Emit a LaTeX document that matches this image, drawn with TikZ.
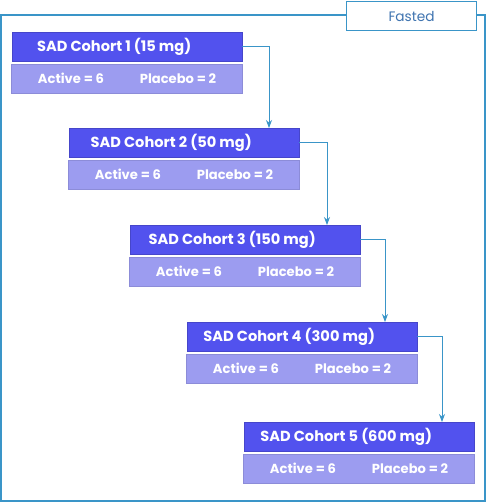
\documentclass[tikz,border=0pt]{standalone}
\usepackage{fontspec}
\setmainfont{Poppins}
\usetikzlibrary{arrows.meta,calc}
\definecolor{topc}{HTML}{5252EE}
\definecolor{botc}{HTML}{9C9CF0}
\definecolor{linec}{HTML}{3A95C8}
\definecolor{fastc}{HTML}{3F74B0}
\tikzset{
  topbox/.style={draw=topc!85!black, line width=0.4pt, fill=topc, minimum width=230pt, minimum height=29pt, inner sep=0pt},
  botbox/.style={draw=botc!90!black, line width=0.3pt, fill=botc, minimum width=231pt, minimum height=29pt, inner sep=0pt},
  toptxt/.style={text=white, font=\bfseries\fontsize{14.6}{16}\selectfont, inner sep=0pt},
  bottxt/.style={text=white, font=\bfseries\fontsize{13.1}{15}\selectfont, inner sep=0pt},
  conn/.style={draw=linec, line width=0.8pt, -{Stealth[length=8pt,width=6pt]}},
  frame/.style={draw=linec, line width=1.2pt},
}
\begin{document}
\begin{tikzpicture}[x=1pt,y=-1pt]
\useasboundingbox (0,0) rectangle (488,504);
% frame
\draw[frame] (1,15) rectangle (485,501);
\node[draw=linec, line width=1.2pt, fill=white, anchor=north west, minimum width=130pt, minimum height=29pt, inner sep=0pt] (fast) at (346,1) {};
\node[text=fastc, font=\fontsize{13.7}{15}\selectfont, inner sep=0pt] (fastt) at (fast.center) {Fasted};
% cohorts: top-left x, top y
\foreach \i/\x/\y/\dose in {1/12/32/15, 2/69/128/50, 3/130/225/150, 4/187/322/300, 5/244/422/600}{
  \node[topbox, anchor=north west] (t\i) at (\x,\y) {};
  \node[botbox, anchor=north west] (b\i) at (\x-1,\y+32) {};
  \node[toptxt] (tt\i) at ($(t\i.center)+(-13,0)$) {SAD Cohort \i\ (\dose\ mg)};
  \node[bottxt] (ba\i) at ($(b\i.west)+(60,0)$) {Active = 6};
  \node[bottxt] (bp\i) at ($(b\i.west)+(167,0)$) {Placebo = 2};
}
\coordinate (a2) at (269,128);
\coordinate (a3) at (327,225);
\coordinate (a4) at (385,322);
\coordinate (a5) at (442,422);
\draw[conn] (t1.east) -| (a2);
\draw[conn] (t2.east) -| (a3);
\draw[conn] (t3.east) -| (a4);
\draw[conn] (t4.east) -| (a5);
\end{tikzpicture}
\end{document}
